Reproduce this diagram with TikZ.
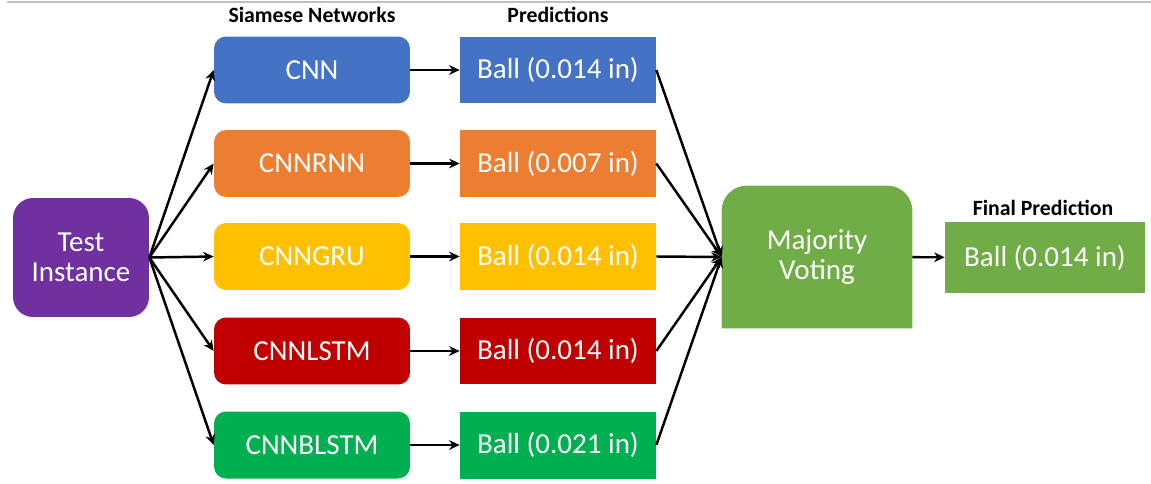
\documentclass[tikz,border=0pt]{standalone}
\usepackage{fontspec}
\setmainfont{Carlito}
\usetikzlibrary{arrows.meta,backgrounds}

\definecolor{cnnblue}{HTML}{4472C4}
\definecolor{rnnorange}{HTML}{ED7D31}
\definecolor{gruyellow}{HTML}{FFC000}
\definecolor{lstmred}{HTML}{C00000}
\definecolor{blstmgreen}{HTML}{00B050}
\definecolor{testpurple}{HTML}{7030A0}
\definecolor{votegreen}{HTML}{70AD47}

\begin{document}
\begin{tikzpicture}[x=0.02cm,y=-0.02cm,
    txt/.style={text=white,font=\fontsize{16.5}{17}\selectfont,align=center,inner sep=0pt},
    model/.style={txt,rounded corners=0.24cm,minimum width=3.92cm,minimum height=1.34cm},
    pred/.style={txt,minimum width=3.92cm,minimum height=1.34cm},
    head/.style={font=\fontsize{12.4}{14}\selectfont\bfseries,inner sep=0pt},
    conn/.style={line width=1.4pt,-{Stealth[length=6pt,width=5.5pt]}}]
  \useasboundingbox (0,0) rectangle (1151,483);

  % Linie oben
  \draw[black!25,line width=0.8pt] (7,2) -- (1151,2);

  % Ueberschriften
  \node[head] (hsiam) at (312,15) {Siamese Networks};
  \node[head] (hpred) at (558,15) {Predictions};
  \node[head] (hfin) at (1043,208) {Final Prediction};

  \node[txt,fill=testpurple,rounded corners=0.4cm,minimum width=2.72cm,minimum height=2.38cm] (T) at (81,257.5) {Test\\Instance};

  % Siamesische Netze
  \node[model,fill=cnnblue] (M1) at (312,70) {CNN};
  \node[model,fill=rnnorange] (M2) at (312,163.5) {CNNRNN};
  \node[model,fill=gruyellow] (M3) at (312,256.5) {CNNGRU};
  \node[model,fill=lstmred] (M4) at (312,351) {CNNLSTM};
  \node[model,fill=blstmgreen] (M5) at (312,445) {CNNBLSTM};

  % Vorhersagen
  \node[pred,fill=cnnblue] (P1) at (558,70) {Ball (0.014 in)};
  \node[pred,fill=rnnorange] (P2) at (558,163.5) {Ball (0.007 in)};
  \node[pred,fill=gruyellow] (P3) at (558,256.5) {Ball (0.014 in)};
  \node[pred,fill=lstmred] (P4) at (558,351) {Ball (0.014 in)};
  \node[pred,fill=blstmgreen] (P5) at (558,445) {Ball (0.021 in)};

  % Mehrheitsentscheid (nur oben abgerundet)
  \node[txt,minimum width=3.8cm,minimum height=2.84cm] (V) at (817,257) {Majority\\Voting};
  \begin{scope}[on background layer]
    \fill[votegreen] (V.south west) {[rounded corners=0.5cm] -- (V.north west) -- (V.north east)} -- (V.south east) -- cycle;
  \end{scope}

  \node[pred,fill=votegreen,minimum width=4cm,minimum height=1.42cm] (F) at (1045,257.5) {Ball (0.014 in)};

  \draw[conn] (T.east) -- (M1.west);
  \draw[conn] (T.east) -- (M2.west);
  \draw[conn] (T.east) -- (M3.west);
  \draw[conn] (T.east) -- (M4.west);
  \draw[conn] (T.east) -- (M5.west);

  \draw[conn] (M1) -- (P1);
  \draw[conn] (M2) -- (P2);
  \draw[conn] (M3) -- (P3);
  \draw[conn] (M4) -- (P4);
  \draw[conn] (M5) -- (P5);

  \draw[conn] (P1.east) -- (V.west);
  \draw[conn] (P2.east) -- (V.west);
  \draw[conn] (P3.east) -- (V.west);
  \draw[conn] (P4.east) -- (V.west);
  \draw[conn] (P5.east) -- (V.west);

  \draw[conn] (V) -- (F);
\end{tikzpicture}
\end{document}
